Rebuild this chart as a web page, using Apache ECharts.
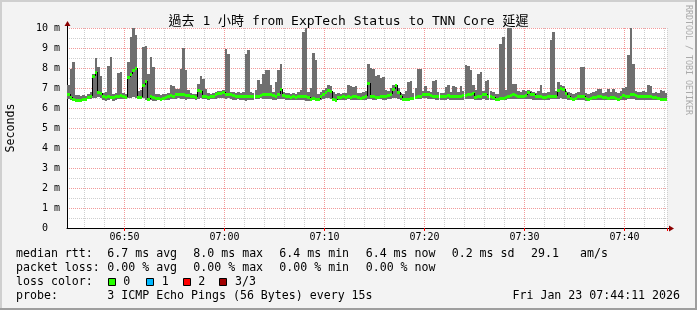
<!DOCTYPE html>
<html><head><meta charset="utf-8">
<script src="https://cdn.jsdelivr.net/npm/echarts@6/dist/echarts.min.js"></script>
<style>html,body{margin:0;padding:0;background:#f3f3f3}#c{width:697px;height:310px}</style>
</head><body><div id="c"></div><script>
// ---- data ----
const startTime = '06:44:15';
const stepSeconds = 15;
const pointCount = 240;
const tickLabels = ['06:50', '07:00', '07:10', '07:20', '07:30', '07:40'];
const yTickLabels = ['0  ', '1 m', '2 m', '3 m', '4 m', '5 m', '6 m', '7 m', '8 m', '9 m', '10 m'];

const smokeHigh = [
7.15,7.95,8.30,6.65,6.65,6.60,6.65,6.60,6.70,6.80,7.70,8.50,8.05,7.60,6.75,6.80,8.10,8.55,6.70,6.75,
7.75,7.80,6.75,6.70,8.30,9.55,10.1,9.65,6.85,6.90,9.05,9.10,7.70,8.55,8.05,6.70,6.70,6.65,6.70,6.70,
6.75,7.15,7.10,6.95,6.95,7.95,9.00,7.90,6.90,6.75,6.70,6.70,7.20,7.60,7.45,6.95,6.75,6.70,6.75,6.80,
6.85,6.85,6.90,8.95,8.70,6.80,6.80,6.75,6.80,6.75,6.80,8.70,8.90,6.80,6.75,6.90,7.40,7.20,7.70,7.90,
7.90,7.15,6.80,7.30,7.90,8.20,6.80,6.75,6.75,6.70,6.75,6.70,6.80,6.90,9.80,10.1,6.80,7.00,8.75,8.40,
6.70,6.80,6.90,7.00,7.15,7.10,6.80,6.70,6.75,6.70,6.75,6.75,7.15,7.10,7.05,7.10,6.75,6.75,6.80,6.85,
8.20,8.00,7.95,7.60,7.65,7.50,7.55,6.90,6.85,7.00,7.15,7.20,7.00,6.75,6.70,6.85,7.30,7.35,6.75,7.00,
7.95,7.95,6.85,7.10,6.85,6.80,7.35,7.40,6.80,6.75,6.75,7.05,7.15,6.80,7.10,7.05,6.80,7.10,6.85,8.15,
8.10,7.90,7.15,6.90,7.70,7.80,6.85,7.35,7.40,6.85,6.80,6.70,6.70,9.20,9.55,6.90,10.1,10.1,7.20,7.20,
6.85,6.80,6.90,6.85,6.90,6.85,6.80,6.75,6.85,7.15,6.75,6.75,6.80,9.40,9.80,6.85,7.30,7.15,7.10,6.85,
6.80,6.75,6.70,6.75,6.80,8.05,8.05,6.75,6.70,6.75,6.80,6.85,6.95,6.95,6.75,6.80,6.95,6.80,6.95,6.80,
6.75,6.85,7.00,7.05,8.65,10.1,8.20,6.85,6.80,6.80,6.85,6.80,7.15,7.10,6.75,6.80,6.75,6.90,6.85,6.75
];
const smokeLow = [
6.45,6.40,6.40,6.38,6.38,6.40,6.38,6.40,6.45,6.45,6.50,6.50,6.55,6.50,6.40,6.35,6.40,6.45,6.35,6.40,
6.45,6.45,6.45,6.45,6.50,6.50,6.55,6.50,6.50,6.45,6.50,6.40,6.35,6.40,6.35,6.35,6.40,6.38,6.40,6.42,
6.42,6.45,6.45,6.45,6.50,6.45,6.45,6.40,6.45,6.45,6.45,6.40,6.45,6.50,6.45,6.45,6.40,6.45,6.45,6.45,
6.50,6.50,6.50,6.45,6.50,6.45,6.42,6.40,6.45,6.40,6.40,6.35,6.40,6.40,6.40,6.45,6.45,6.50,6.45,6.45,
6.45,6.45,6.40,6.40,6.45,6.45,6.45,6.40,6.40,6.42,6.40,6.38,6.40,6.40,6.40,6.35,6.35,6.35,6.40,6.35,
6.35,6.40,6.45,6.50,6.50,6.45,6.35,6.35,6.40,6.40,6.42,6.40,6.45,6.40,6.42,6.40,6.40,6.40,6.42,6.40,
6.45,6.45,6.40,6.40,6.45,6.45,6.40,6.40,6.45,6.45,6.50,6.50,6.45,6.40,6.35,6.35,6.40,6.40,6.40,6.45,
6.45,6.45,6.50,6.50,6.45,6.45,6.45,6.40,6.40,6.40,6.42,6.42,6.45,6.42,6.40,6.40,6.42,6.40,6.42,6.45,
6.45,6.45,6.45,6.40,6.42,6.42,6.45,6.42,6.40,6.40,6.40,6.35,6.35,6.40,6.40,6.42,6.45,6.45,6.45,6.45,
6.45,6.45,6.45,6.45,6.45,6.45,6.42,6.40,6.40,6.40,6.40,6.42,6.40,6.45,6.45,6.45,6.45,6.50,6.45,6.45,
6.42,6.40,6.35,6.40,6.40,6.42,6.40,6.35,6.35,6.38,6.40,6.40,6.40,6.42,6.40,6.40,6.40,6.40,6.42,6.40,
6.38,6.40,6.42,6.40,6.45,6.45,6.45,6.40,6.40,6.40,6.42,6.40,6.42,6.40,6.40,6.40,6.38,6.38,6.38,6.38
];
const medianRtt = [
6.70,6.55,6.45,6.42,6.42,6.42,6.43,6.45,6.55,6.60,7.60,7.80,6.78,6.75,6.60,6.55,6.58,6.55,6.55,6.58,
6.62,6.65,6.58,6.55,7.55,7.72,7.88,8.00,6.55,6.55,7.15,7.35,6.45,6.58,6.55,6.50,6.50,6.45,6.52,6.55,
6.58,6.65,6.60,6.68,6.68,6.70,6.70,6.65,6.65,6.62,6.58,6.55,6.90,6.85,6.62,6.60,6.55,6.60,6.62,6.70,
6.75,6.75,6.80,6.70,6.70,6.70,6.65,6.62,6.60,6.60,6.62,6.62,6.62,6.60,6.58,6.60,6.62,6.65,6.68,6.70,
6.70,6.68,6.65,6.62,6.70,6.95,6.65,6.58,6.60,6.55,6.58,6.55,6.62,6.60,6.58,6.60,6.55,6.45,6.48,6.45,
6.45,6.62,6.70,6.82,6.90,6.85,6.45,6.42,6.55,6.55,6.58,6.55,6.58,6.55,6.58,6.60,6.55,6.50,6.55,6.60,
7.25,6.60,6.60,6.55,6.55,6.60,6.62,6.62,6.65,6.70,6.95,7.15,6.80,6.62,6.47,6.45,6.47,6.50,6.52,6.55,
6.60,6.62,6.70,6.72,6.70,6.65,6.62,6.60,6.60,6.62,6.60,6.62,6.65,6.60,6.62,6.60,6.62,6.60,6.65,6.65,
6.70,6.72,6.75,6.55,6.60,6.58,6.72,6.68,6.62,6.58,6.55,6.45,6.43,6.48,6.50,6.55,6.60,6.65,6.68,6.65,
6.62,6.60,6.62,6.65,6.80,6.72,6.68,6.62,6.58,6.58,6.55,6.55,6.58,6.60,6.62,6.60,6.90,7.00,6.95,6.75,
6.62,6.50,6.43,6.52,6.58,6.62,6.60,6.48,6.45,6.50,6.55,6.55,6.60,6.58,6.55,6.55,6.52,6.55,6.55,6.50,
6.45,6.55,6.65,6.60,6.62,6.70,6.70,6.65,6.60,6.62,6.60,6.62,6.60,6.58,6.55,6.55,6.48,6.45,6.45,6.45
];

const titleText = '過去 1 小時 from ExpTech Status to TNN Core 延遲';
const rttStats = ['6.7 ms avg', '8.0 ms max', '6.4 ms min', '6.4 ms now', '0.2 ms sd'];
const amPerSecValue = '29.1';
const lossStats = ['0.00 % avg', '0.00 % max', '0.00 % min', '0.00 % now'];
const lossLabels = ['0', '1', '2', '3/3'];
const lossColorValues = ['#26ff00', '#00b8ff', '#ff0000', '#a00000'];
const probeText = '3 ICMP Echo Pings (56 Bytes) every 15s';
const stampText = 'Fri Jan 23 07:44:11 2026';

// ---- derived ----
function pad(n) { return (n < 10 ? '0' : '') + n; }
const categories = [];
(function () {
  const p = startTime.split(':').map(Number);
  const s = p[0] * 3600 + p[1] * 60 + p[2];
  for (let i = 0; i < pointCount; i++) {
    const t = s + i * stepSeconds;
    categories.push(pad(Math.floor(t / 3600)) + ':' + pad(Math.floor(t / 60) % 60) + ':' + pad(t % 60));
  }
})();
const smokeData = smokeHigh.map((h, i) => [i, smokeLow[i], h]);
const medianData = medianRtt.map((m, i) => [i, m, i > 0 ? medianRtt[i - 1] : m]);

const MONO = "'DejaVu Sans Mono', 'Noto Sans CJK TC', monospace";
const isMajor = (i, v) => v.endsWith(':00') && tickLabels.indexOf(v.slice(0, 5)) >= 0;
const isMinor = (i, v) => v.endsWith(':00') && (+v.slice(3, 5)) % 2 === 0;
const GRAY = '#cfcfcf', RED = '#f29a9a';

function columnOf(api, i) {
  const c = api.coord([i, 0]);
  const bw = api.size([1, 0])[0];
  const x0 = Math.round(c[0] - bw / 2), x1 = Math.round(c[0] + bw / 2);
  return [x0, x1];
}
function renderSmoke(params, api) {
  const i = api.value(0);
  const col = columnOf(api, i);
  const top = Math.max(params.coordSys.y, Math.round(api.coord([i, api.value(2)])[1]));
  const bot = Math.round(api.coord([i, api.value(1)])[1]);
  return { type: 'rect', shape: { x: col[0], y: top, width: col[1] - col[0], height: Math.max(1, bot - top) },
    style: { fill: '#6f6f6f' } };
}
function renderMedian(params, api) {
  const i = api.value(0);
  const col = columnOf(api, i);
  const y = Math.round(api.coord([i, api.value(1)])[1]);
  const yp = Math.round(api.coord([i, api.value(2)])[1]);
  const children = [];
  if (Math.abs(y - yp) > 1) {
    children.push({ type: 'line', shape: { x1: col[0] + 0.5, y1: yp, x2: col[0] + 0.5, y2: y },
      style: { stroke: '#000', lineWidth: 1 } });
  }
  children.push({ type: 'rect', shape: { x: col[0], y: y - 1, width: col[1] - col[0], height: 3 },
    style: { fill: '#26ff00' } });
  return { type: 'group', children: children };
}

function txt(x, y, s, extra) {
  return Object.assign({
    type: 'text', x: x, y: y, silent: true,
    style: { text: s, fontFamily: MONO, fontSize: 11.6, fill: '#000', align: 'left', verticalAlign: 'middle' }
  }, extra || {});
}
const cols = [107.3, 193.3, 279.3, 365.7, 451.7];
const rowY = [254.3, 268.3, 282.3, 296.3];
const graphics = [
  { type: 'rect', shape: { x: 0, y: 0, width: 697, height: 2 }, style: { fill: '#cfcfcf' }, silent: true },
  { type: 'rect', shape: { x: 0, y: 0, width: 2, height: 310 }, style: { fill: '#cfcfcf' }, silent: true },
  { type: 'rect', shape: { x: 695, y: 0, width: 2, height: 310 }, style: { fill: '#9e9e9e' }, silent: true },
  { type: 'rect', shape: { x: 0, y: 308, width: 697, height: 2 }, style: { fill: '#9e9e9e' }, silent: true },
  { type: 'line', shape: { x1: 67.5, y1: 28, x2: 67.5, y2: 25 }, style: { stroke: '#000', lineWidth: 1 }, silent: true },
  { type: 'polygon', shape: { points: [[64.5, 26], [70.5, 26], [67.5, 21]] }, style: { fill: '#8b0000' }, silent: true },
  { type: 'line', shape: { x1: 667, y1: 228.5, x2: 670, y2: 228.5 }, style: { stroke: '#000', lineWidth: 1 }, silent: true },
  { type: 'polygon', shape: { points: [[669, 225.5], [669, 231.5], [674, 228.5]] }, style: { fill: '#8b0000' }, silent: true },
  txt(11, 128, 'Seconds', { rotation: Math.PI / 2, style: { text: 'Seconds', fontFamily: MONO, fontSize: 11.6, fill: '#000', align: 'center', verticalAlign: 'middle' } }),
  txt(688.5, 60, 'RRDTOOL / TOBI OETIKER', { rotation: -Math.PI / 2, style: { text: 'RRDTOOL / TOBI OETIKER', fontFamily: MONO, fontSize: 8.3, fill: '#aaaaaa', align: 'center', verticalAlign: 'middle' } }),
  txt(16, rowY[0], 'median rtt:'),
  txt(16, rowY[1], 'packet loss:'),
  txt(16, rowY[2], 'loss color:'),
  txt(16, rowY[3], 'probe:'),
  txt(531, rowY[0], amPerSecValue),
  txt(580, rowY[0], 'am/s'),
  txt(107.3, rowY[3], probeText),
  txt(680, rowY[3], stampText, { style: { text: stampText, fontFamily: MONO, fontSize: 11.6, fill: '#000', align: 'right', verticalAlign: 'middle' } })
];
rttStats.forEach((s, k) => graphics.push(txt(cols[k], rowY[0], s)));
lossStats.forEach((s, k) => graphics.push(txt(cols[k], rowY[1], s)));
const boxX = [108.5, 146.5, 183.5, 219.5];
const lblX = [123.3, 161.7, 198.3, 235];
lossLabels.forEach((s, k) => {
  graphics.push({ type: 'rect', shape: { x: boxX[k], y: 278.5, width: 7, height: 7 }, style: { fill: lossColorValues[k], stroke: '#000', lineWidth: 1 }, silent: true });
  graphics.push(txt(lblX[k], rowY[2], s));
});

const chart = echarts.init(document.getElementById('c'), null, { renderer: 'canvas' });
chart.setOption({
  animation: false,
  backgroundColor: '#f3f3f3',
  title: { text: titleText, left: 'center', top: 15, padding: 0,
    textStyle: { fontFamily: MONO, fontSize: 13, fontWeight: 'normal', color: '#000' } },
  grid: { left: 67, top: 28, width: 600, height: 200, show: true, backgroundColor: '#ffffff', borderWidth: 0, outerBoundsMode: 'none' },
  xAxis: {
    type: 'category', data: categories, boundaryGap: true,
    axisLine: { show: true, lineStyle: { color: '#000', width: 1 } },
    axisTick: { show: true, interval: isMajor, length: 3, lineStyle: { color: '#ff0000' } },
    axisLabel: { interval: isMajor, formatter: v => v.slice(0, 5), fontFamily: MONO, fontSize: 10, color: '#000', margin: 4, padding: [0, 2.5, 0, 0] },
    splitLine: { show: true, interval: isMinor, lineStyle: { color: [GRAY, GRAY, RED, GRAY, GRAY], type: [1, 1], width: 1 } }
  },
  yAxis: {
    type: 'value', min: 0, max: 10, interval: 1,
    axisLine: { show: true, lineStyle: { color: '#000', width: 1 } },
    axisTick: { show: false },
    axisLabel: { formatter: v => yTickLabels[Math.round(v)], fontFamily: MONO, fontSize: 10, color: '#000', margin: 7 },
    splitLine: { show: true, lineStyle: { color: RED, type: [1, 1], width: 1 } },
    minorTick: { show: false, splitNumber: 2 },
    minorSplitLine: { show: true, lineStyle: { color: GRAY, type: [1, 1], width: 1 } }
  },
  series: [
    { type: 'custom', name: 'smoke', data: smokeData, encode: { x: 0, y: [1, 2] }, renderItem: renderSmoke, silent: true, z: 2 },
    { type: 'custom', name: 'median', data: medianData, encode: { x: 0, y: [1, 2] }, renderItem: renderMedian, silent: true, z: 3 }
  ],
  graphic: graphics
});
</script></body></html>
